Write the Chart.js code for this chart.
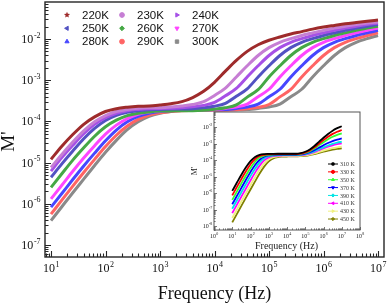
<!DOCTYPE html>
<html>
<head>
<meta charset="utf-8">
<script src="https://cdn.jsdelivr.net/npm/chart.js@4.4.1/dist/chart.umd.min.js"></script>
<style>
  html, body { margin: 0; padding: 0; background: #fff; }
  #wrap { position: relative; width: 387px; height: 306px; overflow: hidden; }
  #main { position: absolute; left: 0; top: 0; }
  #inset { position: absolute; left: 186px; top: 104px; }
</style>
</head>
<body>
<div id="wrap">
  <canvas id="main" width="387" height="306"></canvas>
  <canvas id="inset" width="184" height="156"></canvas>
</div>
<script>
// ---- main plot data (M' vs frequency, 220K..300K) ----
const freqMain = [10, 15.8, 25.1, 39.8, 63.1, 100, 158, 251, 398, 631, 1000, 1585, 2512, 3981, 6310,
  1e4, 1.585e4, 2.512e4, 3.981e4, 6.31e4, 1e5, 1.585e5, 2.512e5, 3.981e5, 6.31e5,
  1e6, 1.585e6, 2.512e6, 3.981e6, 6.31e6, 1e7];

const m220 = [1.2e-5, 2.5e-5, 4.8e-5, 8.5e-5, 1.29e-4, 1.74e-4, 2.04e-4, 2.21e-4, 2.32e-4, 2.37e-4, 2.51e-4, 2.69e-4, 3.02e-4, 3.80e-4, 5.37e-4, 8.9e-4, 1.66e-3, 3.02e-3, 5.01e-3, 7.24e-3, 9.33e-3, 1.12e-2, 1.32e-2, 1.51e-2, 1.74e-2, 1.95e-2, 2.14e-2, 2.34e-2, 2.51e-2, 2.69e-2, 2.88e-2];
const m230 = [7.6e-6, 1.58e-5, 3.16e-5, 5.89e-5, 9.77e-5, 1.38e-4, 1.74e-4, 1.95e-4, 2.09e-4, 2.14e-4, 2.16e-4, 2.24e-4, 2.37e-4, 2.57e-4, 3.02e-4, 4.27e-4, 6.46e-4, 1.20e-3, 2.24e-3, 3.98e-3, 6.17e-3, 8.32e-3, 1.02e-2, 1.22e-2, 1.41e-2, 1.62e-2, 1.84e-2, 2.04e-2, 2.24e-2, 2.43e-2, 2.60e-2];
const m240 = [6.2e-6, 1.32e-5, 2.63e-5, 5.01e-5, 8.51e-5, 1.23e-4, 1.58e-4, 1.82e-4, 1.95e-4, 2.04e-4, 2.06e-4, 2.09e-4, 2.14e-4, 2.26e-4, 2.45e-4, 2.88e-4, 4.17e-4, 6.31e-4, 1.20e-3, 2.24e-3, 3.98e-3, 6.17e-3, 8.32e-3, 1.02e-2, 1.22e-2, 1.41e-2, 1.62e-2, 1.84e-2, 2.04e-2, 2.24e-2, 2.43e-2];
const m250 = [4.4e-6, 9.3e-6, 1.91e-5, 3.80e-5, 6.76e-5, 1.05e-4, 1.41e-4, 1.66e-4, 1.82e-4, 1.91e-4, 1.95e-4, 2.00e-4, 2.00e-4, 2.04e-4, 2.16e-4, 2.34e-4, 2.75e-4, 4.07e-4, 6.17e-4, 1.20e-3, 2.24e-3, 3.98e-3, 6.17e-3, 8.32e-3, 1.02e-2, 1.22e-2, 1.41e-2, 1.62e-2, 1.84e-2, 2.04e-2, 2.24e-2];
const m260 = [2.51e-6, 5.37e-6, 1.15e-5, 2.29e-5, 4.37e-5, 7.41e-5, 1.07e-4, 1.38e-4, 1.58e-4, 1.70e-4, 1.78e-4, 1.80e-4, 1.82e-4, 1.82e-4, 1.86e-4, 1.97e-4, 2.14e-4, 2.51e-4, 3.89e-4, 5.89e-4, 1.20e-3, 2.24e-3, 3.98e-3, 6.17e-3, 8.32e-3, 1.02e-2, 1.22e-2, 1.41e-2, 1.62e-2, 1.84e-2, 2.04e-2];
const m270 = [1.32e-6, 2.82e-6, 6.17e-6, 1.29e-5, 2.57e-5, 4.90e-5, 8.13e-5, 1.17e-4, 1.48e-4, 1.68e-4, 1.79e-4, 1.86e-4, 1.88e-4, 1.91e-4, 1.91e-4, 1.95e-4, 2.07e-4, 2.24e-4, 2.63e-4, 3.98e-4, 6.03e-4, 1.20e-3, 2.24e-3, 3.98e-3, 6.17e-3, 8.32e-3, 1.02e-2, 1.22e-2, 1.41e-2, 1.62e-2, 1.84e-2];
const m280 = [8.3e-7, 1.78e-6, 3.89e-6, 8.3e-6, 1.70e-5, 3.39e-5, 6.17e-5, 9.77e-5, 1.32e-4, 1.58e-4, 1.74e-4, 1.82e-4, 1.86e-4, 1.88e-4, 1.91e-4, 1.91e-4, 1.95e-4, 2.07e-4, 2.24e-4, 2.63e-4, 3.98e-4, 6.03e-4, 1.20e-3, 2.24e-3, 3.98e-3, 6.17e-3, 8.32e-3, 1.02e-2, 1.22e-2, 1.41e-2, 1.62e-2];
const m290 = [5.6e-7, 1.23e-6, 2.69e-6, 5.75e-6, 1.20e-5, 2.45e-5, 4.62e-5, 7.76e-5, 1.12e-4, 1.43e-4, 1.62e-4, 1.75e-4, 1.82e-4, 1.84e-4, 1.86e-4, 1.86e-4, 1.86e-4, 1.91e-4, 2.02e-4, 2.19e-4, 2.57e-4, 3.94e-4, 5.96e-4, 1.20e-3, 2.24e-3, 3.98e-3, 6.17e-3, 8.32e-3, 1.02e-2, 1.22e-2, 1.41e-2];
const m300 = [3.9e-7, 8.5e-7, 1.86e-6, 3.98e-6, 8.5e-6, 1.78e-5, 3.47e-5, 6.31e-5, 9.77e-5, 1.33e-4, 1.58e-4, 1.74e-4, 1.83e-4, 1.87e-4, 1.89e-4, 1.91e-4, 1.91e-4, 1.91e-4, 1.95e-4, 2.07e-4, 2.24e-4, 2.63e-4, 3.98e-4, 6.03e-4, 1.20e-3, 2.24e-3, 3.98e-3, 6.17e-3, 8.32e-3, 1.02e-2, 1.22e-2];

const mainLabels = ['220K', '230K', '240K', '250K', '260K', '270K', '280K', '290K', '300K'];
const mainSeries = [m220, m230, m240, m250, m260, m270, m280, m290, m300];

// ---- inset data (310 K..450 K) ----
const freqInset = [10, 17.8, 31.6, 56.2, 100, 178, 316, 562, 1000, 1778, 3162, 5623,
  1e4, 1.778e4, 3.162e4, 5.623e4, 1e5, 1.778e5, 3.162e5, 5.623e5, 1e6, 1.778e6, 3.162e6, 5.623e6, 1e7];

const i310 = [1.34e-6, 4.19e-6, 1.28e-5, 3.62e-5, 8.63e-5, 1.53e-4, 2.04e-4, 2.27e-4, 2.35e-4, 2.39e-4, 2.40e-4, 2.40e-4, 2.40e-4, 2.40e-4, 2.40e-4, 2.63e-4, 3.16e-4, 4.37e-4, 7.08e-4, 1.26e-3, 2.24e-3, 3.80e-3, 6.03e-3, 8.51e-3, 1.12e-2];
const i330 = [7.23e-7, 2.27e-6, 7.01e-6, 2.08e-5, 5.51e-5, 1.15e-4, 1.74e-4, 2.08e-4, 2.22e-4, 2.27e-4, 2.29e-4, 2.29e-4, 2.29e-4, 2.29e-4, 2.29e-4, 2.48e-4, 2.92e-4, 3.86e-4, 5.90e-4, 9.75e-4, 1.61e-3, 2.56e-3, 3.84e-3, 5.19e-3, 6.61e-3];
const i350 = [3.88e-7, 1.22e-6, 3.82e-6, 1.16e-5, 3.30e-5, 7.87e-5, 1.40e-4, 1.86e-4, 2.07e-4, 2.15e-4, 2.18e-4, 2.19e-4, 2.19e-4, 2.19e-4, 2.19e-4, 2.35e-4, 2.70e-4, 3.46e-4, 5.01e-4, 7.80e-4, 1.21e-3, 1.82e-3, 2.58e-3, 3.37e-3, 4.17e-3];
const i370 = [2.09e-7, 6.59e-7, 2.07e-6, 6.40e-6, 1.90e-5, 5.02e-5, 1.04e-4, 1.59e-4, 1.90e-4, 2.02e-4, 2.07e-4, 2.08e-4, 2.09e-4, 2.09e-4, 2.09e-4, 2.21e-4, 2.46e-4, 2.98e-4, 3.97e-4, 5.58e-4, 7.85e-4, 1.08e-3, 1.41e-3, 1.73e-3, 2.04e-3];
const i390 = [1.12e-7, 3.54e-7, 1.12e-6, 3.48e-6, 1.06e-5, 3.01e-5, 7.18e-5, 1.28e-4, 1.69e-4, 1.89e-4, 1.96e-4, 1.99e-4, 2.00e-4, 2.00e-4, 2.00e-4, 2.08e-4, 2.28e-4, 2.67e-4, 3.37e-4, 4.46e-4, 5.89e-4, 7.62e-4, 9.53e-4, 1.13e-3, 1.29e-3];
const i410 = [6.03e-8, 1.91e-7, 6.01e-7, 1.89e-6, 5.83e-6, 1.73e-5, 4.58e-5, 9.53e-5, 1.45e-4, 1.73e-4, 1.85e-4, 1.89e-4, 1.90e-4, 1.91e-4, 1.91e-4, 1.98e-4, 2.15e-4, 2.48e-4, 3.05e-4, 3.94e-4, 5.06e-4, 6.37e-4, 7.80e-4, 9.06e-4, 1.02e-3];
const i430 = [3.09e-8, 9.77e-8, 3.08e-7, 9.73e-7, 3.03e-6, 9.25e-6, 2.62e-5, 6.25e-5, 1.11e-4, 1.48e-4, 1.64e-4, 1.71e-4, 1.73e-4, 1.74e-4, 1.74e-4, 1.79e-4, 1.91e-4, 2.13e-4, 2.51e-4, 3.06e-4, 3.72e-4, 4.46e-4, 5.21e-4, 5.87e-4, 6.46e-4];
const i450 = [1.66e-8, 5.25e-8, 1.66e-7, 5.24e-7, 1.64e-6, 5.08e-6, 1.51e-5, 3.99e-5, 8.30e-5, 1.26e-4, 1.51e-4, 1.61e-4, 1.64e-4, 1.66e-4, 1.66e-4, 1.71e-4, 1.80e-4, 1.98e-4, 2.28e-4, 2.70e-4, 3.19e-4, 3.73e-4, 4.27e-4, 4.72e-4, 5.13e-4];

const insetLabels = ['310 K', '330 K', '350 K', '370 K', '390 K', '410 K', '430 K', '450 K'];
const insetSeries = [i310, i330, i350, i370, i390, i410, i430, i450];

// tick labels (powers of ten)
const mainXPowers = [1, 2, 3, 4, 5, 6, 7];
const mainYPowers = [-7, -6, -5, -4, -3, -2];
const insetXPowers = [0, 1, 2, 3, 4, 5, 6, 7, 8];
const insetYPowers = [-8, -7, -6, -5, -4, -3, -2];

// ---- styles ----
const mainColors = ['#9e2b2b', '#c67ed4', '#a650e6', '#5252c2', '#45a845', '#ff45ff', '#4646ff', '#ff6464', '#8a8a8a'];
const mainMarkers = [
  { pointStyle: 'star5' }, { pointStyle: 'circle' }, { pointStyle: 'triangle', rotation: 90 },
  { pointStyle: 'triangle', rotation: -90 }, { pointStyle: 'rectRot' }, { pointStyle: 'triangle', rotation: 180 },
  { pointStyle: 'triangle' }, { pointStyle: 'circle' }, { pointStyle: 'rect' }
];
const insetColors = ['#000000', '#ff0000', '#33ff33', '#0000ff', '#00e5e5', '#ff00ff', '#f0f080', '#808000'];
const insetMarkers = [
  { pointStyle: 'rect' }, { pointStyle: 'circle' }, { pointStyle: 'triangle' }, { pointStyle: 'triangle', rotation: 180 },
  { pointStyle: 'rectRot' }, { pointStyle: 'triangle', rotation: -90 }, { pointStyle: 'triangle', rotation: 90 }, { pointStyle: 'rectRot' }
];

const SERIF = '"Liberation Serif", "Times New Roman", serif';
const SANS = '"Liberation Sans", Arial, sans-serif';

function drawPow(ctx, x, y, exp, size, align) {
  const sup = String(exp);
  const supSize = Math.max(3, Math.round(size * 0.65));
  ctx.font = size + 'px ' + SERIF;
  const w1 = ctx.measureText('10').width;
  ctx.font = supSize + 'px ' + SERIF;
  const w2 = ctx.measureText(sup).width;
  const x0 = align === 'right' ? x - w1 - w2 : x - (w1 + w2) / 2;
  ctx.textAlign = 'left';
  ctx.textBaseline = 'alphabetic';
  ctx.font = size + 'px ' + SERIF;
  ctx.fillText('10', x0, y + size * 0.33);
  ctx.font = supSize + 'px ' + SERIF;
  ctx.fillText(sup, x0 + w1 + size * 0.05, y - size * 0.12);
}

function logTicks(scale) {
  const out = [];
  const lo = Math.floor(Math.log10(scale.min));
  const hi = Math.ceil(Math.log10(scale.max));
  for (let n = lo; n <= hi; n++) {
    for (let m = 1; m < 10; m++) {
      const v = m * Math.pow(10, n);
      if (v >= scale.min && v <= scale.max) out.push({ v, major: m === 1 });
    }
  }
  return out;
}

function drawFrame(chart, cfg) {
  const { ctx, chartArea: a } = chart;
  const x = chart.scales.x, y = chart.scales.y;
  ctx.save();
  ctx.strokeStyle = cfg.color;
  ctx.lineWidth = cfg.frameWidth;
  ctx.strokeRect(a.left, a.top, a.right - a.left, a.bottom - a.top);
  ctx.lineWidth = cfg.tickWidth;
  ctx.beginPath();
  logTicks(x).forEach(t => {
    const px = Math.round(x.getPixelForValue(t.v)) + 0.5;
    ctx.moveTo(px, a.bottom);
    ctx.lineTo(px, a.bottom - (t.major ? cfg.major : cfg.minor));
  });
  logTicks(y).forEach(t => {
    const py = Math.round(y.getPixelForValue(t.v)) + 0.5;
    ctx.moveTo(a.left, py);
    ctx.lineTo(a.left + (t.major ? cfg.major : cfg.minor), py);
  });
  ctx.stroke();
  ctx.fillStyle = cfg.textColor;
  cfg.xPowers.forEach(p => drawPow(ctx, x.getPixelForValue(Math.pow(10, p)), a.bottom + cfg.xLabelOffset, p, cfg.labelSize, 'center'));
  cfg.yPowers.forEach(p => drawPow(ctx, a.left - cfg.yLabelGap, y.getPixelForValue(Math.pow(10, p)), p, cfg.labelSize, 'right'));
  ctx.restore();
}

function drawStar(ctx, cx, cy, r) {
  ctx.beginPath();
  for (let k = 0; k < 10; k++) {
    const rr = k % 2 === 0 ? r : r * 0.45;
    const ang = -Math.PI / 2 + k * Math.PI / 5;
    const px = cx + rr * Math.cos(ang), py = cy + rr * Math.sin(ang);
    if (k === 0) ctx.moveTo(px, py); else ctx.lineTo(px, py);
  }
  ctx.closePath();
  ctx.fill();
}

function drawMarker(ctx, marker, color, cx, cy, r) {
  ctx.fillStyle = color;
  ctx.strokeStyle = color;
  ctx.lineWidth = 1;
  if (marker.pointStyle === 'star5') { drawStar(ctx, cx, cy, r + 0.8); return; }
  Chart.helpers.drawPoint(ctx, { pointStyle: marker.pointStyle, rotation: marker.rotation || 0, radius: r, borderWidth: 0.5 }, cx, cy);
}

const mainDecor = {
  id: 'mainDecor',
  afterDraw(chart) {
    const { ctx, chartArea: a } = chart;
    drawFrame(chart, {
      color: '#262626', frameWidth: 1.4, tickWidth: 1.1, major: 6, minor: 3.5, textColor: '#111',
      labelSize: 12, xLabelOffset: 11, yLabelGap: 5, xPowers: mainXPowers, yPowers: mainYPowers
    });
    ctx.save();
    // legend, 3 columns
    mainLabels.forEach((lab, i) => {
      const col = i % 3, row = Math.floor(i / 3);
      const mx = a.left + 22 + col * 55, my = a.top + 13 + row * 13.3;
      drawMarker(ctx, mainMarkers[i], mainColors[i], mx, my, 2.4);
      ctx.fillStyle = '#111';
      ctx.font = '11.5px ' + SANS;
      ctx.textAlign = 'left';
      ctx.textBaseline = 'middle';
      ctx.fillText(lab, mx + 15, my + 0.5);
    });
    // axis titles
    ctx.fillStyle = '#111';
    ctx.font = '18px ' + SERIF;
    ctx.textAlign = 'center';
    ctx.textBaseline = 'alphabetic';
    ctx.fillText('Frequency (Hz)', (a.left + a.right) / 2, 299);
    ctx.translate(14, (a.top + a.bottom) / 2 + 12);
    ctx.rotate(-Math.PI / 2);
    ctx.font = '19px ' + SERIF;
    ctx.fillText("M'", 0, 0);
    ctx.restore();
  }
};

const insetDecor = {
  id: 'insetDecor',
  beforeDatasetsDraw(chart) {
    const { ctx, chartArea: a } = chart;
    ctx.save();
    ctx.fillStyle = '#fff';
    ctx.fillRect(a.left, a.top, a.right - a.left, a.bottom - a.top);
    ctx.restore();
  },
  afterDraw(chart) {
    const { ctx, chartArea: a } = chart;
    drawFrame(chart, {
      color: '#555', frameWidth: 1, tickWidth: 0.8, major: 3, minor: 1.6, textColor: '#222',
      labelSize: 6, xLabelOffset: 6, yLabelGap: 2, xPowers: insetXPowers, yPowers: insetYPowers
    });
    ctx.save();
    insetLabels.forEach((lab, i) => {
      const ly = a.top + 52 + i * 7.86;
      const lx = a.right - 32;
      ctx.strokeStyle = insetColors[i];
      ctx.lineWidth = 1;
      ctx.beginPath();
      ctx.moveTo(lx, ly);
      ctx.lineTo(lx + 10, ly);
      ctx.stroke();
      drawMarker(ctx, insetMarkers[i], insetColors[i], lx + 5, ly, 1.6);
      ctx.fillStyle = '#333';
      ctx.font = '6px ' + SERIF;
      ctx.textAlign = 'left';
      ctx.textBaseline = 'middle';
      ctx.fillText(lab, lx + 12, ly + 0.5);
    });
    ctx.fillStyle = '#222';
    ctx.font = '10px ' + SERIF;
    ctx.textAlign = 'center';
    ctx.textBaseline = 'alphabetic';
    ctx.fillText('Frequency (Hz)', (a.left + a.right) / 2 - 0.5, a.bottom + 19);
    ctx.translate(a.left - 17, (a.top + a.bottom) / 2);
    ctx.rotate(-Math.PI / 2);
    ctx.font = '8px ' + SERIF;
    ctx.fillText("M'", 0, 0);
    ctx.restore();
  }
};

function makeDatasets(freqs, series, labels, colors, width) {
  return series.map((vals, i) => ({
    label: labels[i],
    data: freqs.map((f, j) => ({ x: f, y: vals[j] })),
    borderColor: colors[i],
    backgroundColor: colors[i],
    borderWidth: width,
    pointRadius: 0,
    fill: false,
    cubicInterpolationMode: 'monotone'
  }));
}

function baseOptions(xRange, yRange, padding) {
  return {
    responsive: false,
    animation: false,
    events: [],
    layout: { padding },
    plugins: { legend: { display: false }, tooltip: { enabled: false } },
    scales: {
      x: { type: 'logarithmic', display: false, min: xRange[0], max: xRange[1] },
      y: { type: 'logarithmic', display: false, min: yRange[0], max: yRange[1] }
    }
  };
}

new Chart(document.getElementById('main'), {
  type: 'line',
  data: { datasets: makeDatasets(freqMain, mainSeries, mainLabels, mainColors, 3) },
  options: baseOptions([7.76, 1.288e7], [5.12e-8, 0.0791], { left: 45, right: 3, top: 2, bottom: 49 }),
  plugins: [mainDecor]
});

new Chart(document.getElementById('inset'), {
  type: 'line',
  data: { datasets: makeDatasets(freqInset, insetSeries, insetLabels, insetColors, 1.8) },
  options: baseOptions([1, 1e8], [5.75e-9, 0.0813], { left: 28, right: 10, top: 8, bottom: 30 }),
  plugins: [insetDecor]
});
</script>
</body>
</html>
